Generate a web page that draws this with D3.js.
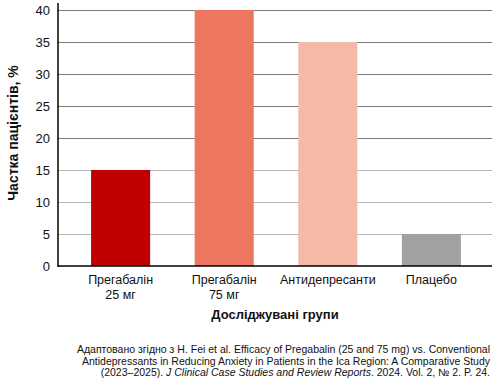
<!DOCTYPE html>
<html>
<head>
<meta charset="utf-8">
<script src="https://cdn.jsdelivr.net/npm/d3@7"></script>
<style>
  body { margin: 0; background: #fff; }
  svg { display: block; font-family: "Liberation Sans", Arial, Helvetica, sans-serif; }
</style>
</head>
<body>
<div id="chart"></div>
<script>
// Chart data
const groups = ['Прегабалін 25 мг', 'Прегабалін 75 мг', 'Антидепресанти', 'Плацебо'];
const groupLines = [['Прегабалін', '25 мг'], ['Прегабалін', '75 мг'], ['Антидепресанти'], ['Плацебо']];
const shares = [15, 40, 35, 5];
const barColors = ['#c00000', '#ed7661', '#f5b9a7', '#a1a1a1'];
const yTicks = [0, 5, 10, 15, 20, 25, 30, 35, 40];
const sourceLines = [
    [{ t: 'Адаптовано згідно з H. Fei et al. Efficacy of Pregabalin (25 and 75 mg) vs. Conventional' }],
    [{ t: 'Antidepressants in Reducing Anxiety in Patients in the Ica Region: A Comparative Study' }],
    [{ t: '(2023–2025). ' }, { t: 'J Clinical Case Studies and Review Reports', i: true }, { t: '. 2024. Vol. 2, № 2. P. 24.' }]
];

const width = 492;
const height = 382;
const margin = { top: 10, right: 0, bottom: 116, left: 58 };

const svg = d3.select('#chart').append('svg')
    .attr('width', width)
    .attr('height', height);

// Scales
const x = d3.scaleBand()
    .domain(groups)
    .range([margin.left + 2, width])
    .paddingInner(0.43)
    .paddingOuter(0.3);

const y = d3.scaleLinear()
    .domain([0, 40])
    .range([height - margin.bottom, margin.top]);

// Gridlines
svg.append('g')
    .selectAll('line')
    .data(yTicks.filter(d => d > 0))
    .enter()
    .append('line')
    .attr('x1', margin.left)
    .attr('x2', width)
    .attr('y1', d => y(d))
    .attr('y2', d => y(d))
    .attr('stroke', d => d >= 20 ? '#7c7c7c' : '#b4b4b4')
    .attr('stroke-width', 1)
    .attr('shape-rendering', 'crispEdges');

// Bars
svg.append('g')
    .selectAll('rect')
    .data(shares)
    .enter()
    .append('rect')
    .attr('x', (d, i) => x(groups[i]))
    .attr('y', d => y(d))
    .attr('width', x.bandwidth())
    .attr('height', d => y(0) - y(d))
    .attr('fill', (d, i) => barColors[i]);

// Y axis
const yAxis = svg.append('g')
    .attr('transform', `translate(${margin.left},0)`)
    .call(d3.axisLeft(y).tickValues(yTicks).tickSize(0).tickPadding(8));
yAxis.select('.domain').remove();
yAxis.selectAll('text')
    .attr('fill', '#111')
    .style('font-size', '13px')
    .style('font-family', '"Liberation Sans", Arial, sans-serif');

svg.append('line')
    .attr('x1', margin.left).attr('x2', margin.left)
    .attr('y1', 3).attr('y2', y(0) + 1)
    .attr('stroke', '#000')
    .attr('stroke-width', 1.5);

// X axis baseline
svg.append('line')
    .attr('x1', margin.left).attr('x2', width)
    .attr('y1', y(0)).attr('y2', y(0))
    .attr('stroke', '#000')
    .attr('stroke-width', 1.5);

// Category labels
const catLabels = svg.append('g')
    .selectAll('text')
    .data(groupLines)
    .enter()
    .append('text')
    .attr('text-anchor', 'middle')
    .attr('fill', '#111')
    .style('font-size', '12.5px')
    .attr('x', (d, i) => x(groups[i]) + x.bandwidth() / 2)
    .attr('y', y(0) + 18);

catLabels.selectAll('tspan')
    .data(d => d)
    .enter()
    .append('tspan')
    .attr('x', function () { return d3.select(this.parentNode).attr('x'); })
    .attr('dy', (d, i) => i === 0 ? 0 : 15)
    .text(d => d);

// Axis titles
svg.append('text')
    .attr('x', (margin.left + width) / 2)
    .attr('y', 319)
    .attr('text-anchor', 'middle')
    .style('font-size', '13px')
    .style('font-weight', 'bold')
    .attr('fill', '#111')
    .text('Досліджувані групи');

svg.append('text')
    .attr('transform', `translate(18,133) rotate(-90)`)
    .attr('text-anchor', 'middle')
    .style('font-size', '14px')
    .style('font-weight', 'bold')
    .attr('fill', '#111')
    .text('Частка пацієнтів, %');

// Source note, right aligned
const note = svg.append('g');
sourceLines.forEach((parts, i) => {
    const line = note.append('text')
        .attr('x', 490)
        .attr('y', 353 + i * 11.6)
        .attr('text-anchor', 'end')
        .style('font-size', '10.5px')
        .attr('fill', '#111');
    parts.forEach(p => {
        line.append('tspan')
            .style('font-style', p.i ? 'italic' : 'normal')
            .text(p.t);
    });
});
</script>
</body>
</html>
